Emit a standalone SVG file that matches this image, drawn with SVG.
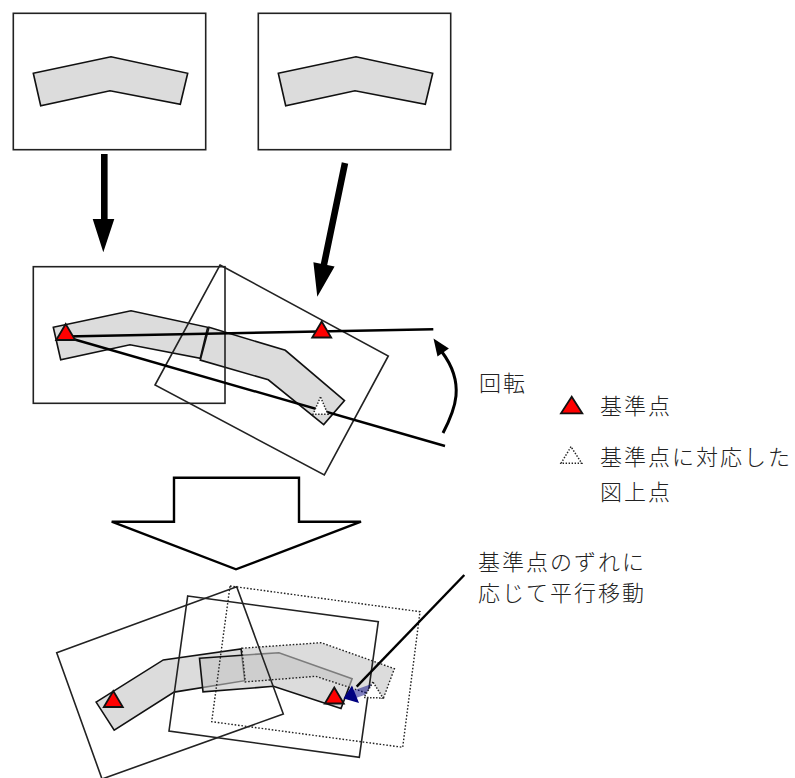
<svg xmlns="http://www.w3.org/2000/svg" width="795" height="778" viewBox="0 0 795 778">
<style>
.box{fill:none;stroke:#222;stroke-width:1.6}
.dbox{fill:none;stroke:#222;stroke-width:1.4;stroke-dasharray:1.6 1.8}
.shape{fill:#c4c4c4;fill-opacity:0.6;stroke:#111;stroke-width:1.6;stroke-linejoin:miter}
.dshape{fill:#c4c4c4;fill-opacity:0.6;stroke:#222;stroke-width:1.4;stroke-dasharray:1.6 1.8}
.ref{fill:#ff0000;stroke:#111;stroke-width:1.8;stroke-linejoin:miter}
.dref{fill:#fff;stroke:#222;stroke-width:1.5;stroke-dasharray:1.4 1.6}
.ln{fill:none;stroke:#000;stroke-width:2.4}
.blk{fill:#000;stroke:none}
.txt{font-family:"Noto Sans CJK JP","Noto Sans CJK SC",sans-serif;font-size:22px;font-weight:300;letter-spacing:2px;fill:#222}
</style>
<defs>
<polygon id="tri" points="0,-9 -9.5,7 9.5,7"/>
</defs>

<!-- top boxes -->
<g id="box1">
<rect class="box" x="13.3" y="13.3" width="192.4" height="136.4"/>
<polygon class="shape" points="33.3,73.3 111,56.7 187.7,73.3 180.3,104.3 110,90.7 40.7,105.7"/>
</g>
<g id="box2">
<rect class="box" x="258.3" y="13.3" width="192.4" height="136.4"/>
<polygon class="shape" points="278.3,73.3 356,56.7 432.7,73.3 425.3,104.3 355,90.7 285.7,105.7"/>
</g>

<!-- middle: overlay -->
<g id="mid-shapes">
<polygon class="shape" points="53.3,327.3 131,310.7 207.7,327.3 200.3,358.3 130,344.7 60.7,359.7"/>
<polygon class="shape" points="209,327.3 285.3,350.3 344.5,400.6 323.7,424.6 268.3,379.8 200.3,360.1"/>
</g>
<g id="mid-left-box">
<rect class="box" x="33.3" y="266.7" width="191.7" height="136.6"/>
</g>
<g id="mid-rot-box">
<polygon class="box" points="220,265 388.3,356 324.3,475 155,385"/>
</g>

<!-- bottom -->
<g id="bottom-shapes">
<polygon class="shape" points="96.1,702.1 163.3,659.9 241.1,649 244.8,680.7 174.1,692.1 114.2,730.1"/>
<polygon class="shape" points="199.5,658.2 278.9,652.7 352.1,678.7 341,708.5 273.4,686.3 203,691.9"/>
<polygon class="dshape" points="241.8,648.2 321.2,642.7 394.4,668.7 383.3,698.5 315.7,676.3 245.3,681.9"/>
</g>
<g id="bottom-left-box">
<polygon class="box" points="56.7,652.7 236.7,586.7 283.3,714 102,779"/>
</g>
<g id="bottom-mid-box">
<polygon class="box" points="187.7,596 378.3,621.7 359.3,757.3 169,731"/>
</g>
<g id="bottom-dotted-box">
<polygon class="dbox" points="230,586 420,611.7 402.7,747.3 211.7,721.7"/>
</g>

<!-- connectors -->
<g id="connectors">
<polygon class="blk" points="101,154 107.6,154 107.6,219 114.3,219 103.3,252.3 92.7,219 101,219"/>
<polygon class="blk" points="348.2,163.7 341.8,162.3 320.8,263.7 313.4,262.2 317.3,296.7 334.6,266.6 327.2,265.1"/>
<line class="ln" x1="66" y1="336.5" x2="433.3" y2="329.3"/>
<line class="ln" x1="66" y1="337" x2="445" y2="446"/>
<path d="M443,433 C455,410 466,384 442,352" fill="none" stroke="#000" stroke-width="3"/>
<polygon class="blk" points="433.5,338.5 448.9,348.4 437.5,356.4"/>
<polygon fill="#fff" stroke="#000" stroke-width="2.4" stroke-linejoin="miter" points="174,477.7 299,477.7 299,521.7 361,521.7 236,569.3 111.7,521.7 174,521.7"/>
<line class="ln" x1="464.3" y1="575" x2="356.7" y2="686.7"/>
<polygon fill="#000080" fill-opacity="0.5" points="374,691.5 371.5,684 353.5,690.5 356,698"/>
<polygon fill="#000080" points="343.5,698.5 352,685.5 359,703"/>
</g>

<!-- reference points -->
<g id="ref-points">
<use href="#tri" class="ref" x="65.7" y="333"/>
<use href="#tri" class="ref" x="321.7" y="330.5"/>
<polygon class="dref" points="320.5,397 313,414.3 328,414.3"/>
<use href="#tri" class="ref" x="113.3" y="700"/>
<use href="#tri" class="ref" x="334.3" y="696.5"/>
<polygon class="dref" points="373,682 364,697.5 383,698"/>
</g>

<!-- legend -->
<g id="legend">
<polygon class="ref" points="571.7,396.7 561,413.3 582.3,413.3"/>
<text class="txt" x="600" y="413.5">基準点</text>
<polygon class="dref" points="571,446.7 561,463.3 581.7,463.3"/>
<text class="txt" x="600" y="465">基準点に対応した</text>
<text class="txt" x="600" y="500">図上点</text>
</g>

<g id="labels">
<text class="txt" x="479" y="391">回転</text>
<text class="txt" x="478" y="570">基準点のずれに</text>
<text class="txt" x="478" y="601">応じて平行移動</text>
</g>
</svg>
